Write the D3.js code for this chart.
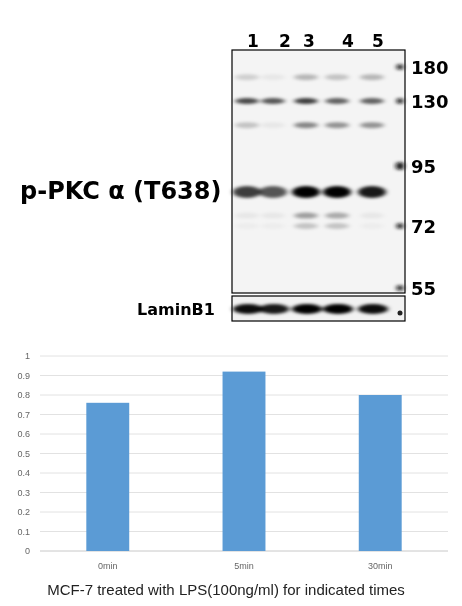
<!DOCTYPE html>
<html><head><meta charset="utf-8">
<script src="https://cdn.jsdelivr.net/npm/d3@7"></script>
<style>body{margin:0;background:#fff}</style></head>
<body><svg id="c" width="462" height="606"></svg>
<script>
// blot data
const lanes = ["1", "2", "3", "4", "5"];
const laneX = [247, 273, 306, 337, 372];          // lane centres
const laneLabelX = [253, 285, 309, 348, 378];
const markers = ["180", "130", "95", "72", "55"];
const markerKDa = [180, 130, 95, 72, 55];
// band intensity per lane (0..1) for each band row, with its apparent kDa
const bandKDa = [165, 130, 117, 85, 76, 72];
const bandIntensity = [
  [0.15, 0.05, 0.25, 0.2, 0.25],
  [0.7, 0.65, 0.75, 0.6, 0.6],
  [0.2, 0.05, 0.45, 0.4, 0.4],
  [0.75, 0.65, 1.0, 1.0, 0.9],
  [0.05, 0.05, 0.35, 0.3, 0.05],
  [0.03, 0.03, 0.2, 0.2, 0.03]
];
const laminIntensity = [0.95, 0.9, 1.0, 1.0, 0.95];
// quantification
const times = ["0min", "5min", "30min"];
const ratio = [0.76, 0.92, 0.80];
const yTicks = [0, 0.1, 0.2, 0.3, 0.4, 0.5, 0.6, 0.7, 0.8, 0.9, 1];

const svg = d3.select("#c");
const defs = svg.append("defs");
defs.append("filter").attr("id", "blur").attr("x", "-50%").attr("y", "-100%").attr("width", "200%").attr("height", "300%")
  .append("feGaussianBlur").attr("stdDeviation", "2.5 1.6");

// kDa -> y through the marker positions
const mwPos = d3.scaleLinear().domain([180, 130, 95, 72, 55]).range([67, 101, 166, 226, 288]);
const g = svg.append("g");
g.append("rect").attr("x", 232).attr("y", 50).attr("width", 173).attr("height", 243)
  .attr("fill", "#f4f4f4");
const bands = g.append("g").attr("filter", "url(#blur)");
bandKDa.forEach((k, i) => {
  bands.selectAll(null).data(bandIntensity[i]).join("ellipse")
    .attr("cx", (d, j) => laneX[j]).attr("cy", mwPos(k))
    .attr("rx", i === 3 ? 14 : 12).attr("ry", i === 3 ? 6 : 3)
    .attr("fill", "#000").attr("opacity", d => d);
});
g.append("g").attr("filter", "url(#blur)").selectAll("circle").data(markerKDa).join("circle")
  .attr("cx", 400).attr("cy", d => mwPos(d)).attr("r", d => d === 95 ? 4 : 3).attr("fill", "#111");
g.append("rect").attr("x", 232).attr("y", 50).attr("width", 173).attr("height", 243)
  .attr("fill", "none").attr("stroke", "#000").attr("stroke-width", 1.2);

// lamin panel
g.append("rect").attr("x", 232).attr("y", 296).attr("width", 173).attr("height", 25).attr("fill", "#f2f2f2");
g.append("g").attr("filter", "url(#blur)").selectAll("ellipse").data(laminIntensity).join("ellipse")
  .attr("cx", (d, j) => laneX[j] + 1).attr("cy", 309).attr("rx", 15).attr("ry", 5)
  .attr("fill", "#000").attr("opacity", d => d);
g.append("circle").attr("cx", 400).attr("cy", 313).attr("r", 2.5).attr("fill", "#222");
g.append("rect").attr("x", 232).attr("y", 296).attr("width", 173).attr("height", 25)
  .attr("fill", "none").attr("stroke", "#000").attr("stroke-width", 1.2);

const bold = "'DejaVu Sans', sans-serif";
g.selectAll(".ln").data(lanes).join("text").attr("class", "ln")
  .attr("x", (d, i) => laneLabelX[i]).attr("y", 47).attr("text-anchor", "middle")
  .attr("font-family", bold).attr("font-weight", "bold").attr("font-size", 17).text(d => d);
g.selectAll(".mk").data(markers).join("text").attr("class", "mk")
  .attr("x", 411).attr("y", (d, i) => mwPos(markerKDa[i]) + 7)
  .attr("font-family", bold).attr("font-weight", "bold").attr("font-size", 18).text(d => d);
g.append("text").attr("x", 20).attr("y", 199).attr("font-family", bold).attr("font-weight", "bold")
  .attr("font-size", 24).text("p-PKC α (T638)");
g.append("text").attr("x", 137).attr("y", 315).attr("font-family", bold).attr("font-weight", "bold")
  .attr("font-size", 16).text("LaminB1");

// bar chart
const x = d3.scaleBand().domain(times).range([40, 448]).paddingInner(0.685).paddingOuter(0.34);
const y = d3.scaleLinear().domain([0, 1]).range([551, 356]);
const ch = svg.append("g");
ch.selectAll(".gl").data(yTicks).join("line").attr("class", "gl")
  .attr("x1", 40).attr("x2", 448).attr("y1", d => y(d)).attr("y2", d => y(d))
  .attr("stroke", d => d === 0 ? "#c8c8c8" : "#e2e2e2");
ch.selectAll(".yt").data(yTicks).join("text").attr("class", "yt")
  .attr("x", 30).attr("y", d => y(d) + 3).attr("text-anchor", "end")
  .attr("font-family", "'Liberation Sans', sans-serif").attr("font-size", 9).attr("fill", "#666")
  .text(d => d3.format("~g")(d));
ch.selectAll(".bar").data(ratio).join("rect").attr("class", "bar")
  .attr("x", (d, i) => x(times[i])).attr("width", x.bandwidth())
  .attr("y", d => y(d)).attr("height", d => y(0) - y(d)).attr("fill", "#5b9bd5");
ch.selectAll(".xt").data(times).join("text").attr("class", "xt")
  .attr("x", d => x(d) + x.bandwidth() / 2).attr("y", 569).attr("text-anchor", "middle")
  .attr("font-family", "'Liberation Sans', sans-serif").attr("font-size", 9).attr("fill", "#666").text(d => d);
ch.append("text").attr("x", 226).attr("y", 595).attr("text-anchor", "middle")
  .attr("font-family", "'Liberation Sans', sans-serif").attr("font-size", 15).attr("fill", "#222")
  .text("MCF-7 treated with LPS(100ng/ml) for indicated times");
</script></body></html>
